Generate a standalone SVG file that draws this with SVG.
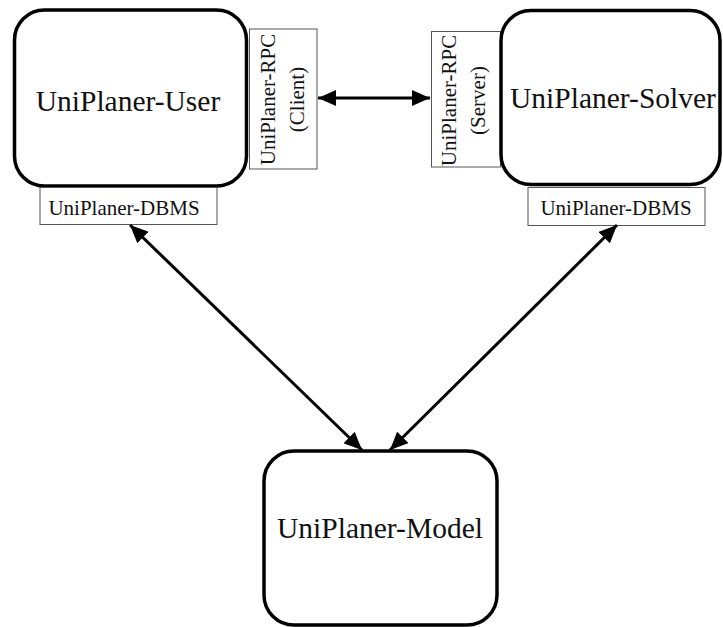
<svg xmlns="http://www.w3.org/2000/svg" width="723" height="627" viewBox="0 0 723 627">
<style>
.main{fill:#fff;stroke:#000;stroke-width:3.5}
.port{fill:#fff;stroke:#555;stroke-width:1}
.big{font-family:"Liberation Serif","Times New Roman",serif;font-size:29.5px;fill:#111;text-anchor:middle}
.small{font-family:"Liberation Serif","Times New Roman",serif;font-size:21px;fill:#111;text-anchor:middle}
.conn{stroke:#000;stroke-width:3;fill:none;marker-start:url(#ah);marker-end:url(#ah)}
</style>
<defs>
<marker id="ah" markerUnits="userSpaceOnUse" markerWidth="19" markerHeight="16" refX="18" refY="8" orient="auto-start-reverse">
<path d="M0,0 L18,8 L0,16 z" fill="#000"/>
</marker>
</defs>
<g id="user">
<rect class="main" x="14.5" y="10" width="232" height="176" rx="30" ry="30"/>
<text class="big" x="128" y="111">UniPlaner-User</text>
</g>
<g id="user-dbms">
<rect class="port" x="40" y="187.5" width="177" height="37"/>
<text class="small" x="124" y="215">UniPlaner-DBMS</text>
</g>
<g id="rpc-client">
<rect class="port" x="249.5" y="29" width="67.5" height="140"/>
<text class="small" transform="translate(274.5,99.5) rotate(-90)">UniPlaner-RPC</text>
<text class="small" transform="translate(304,99.5) rotate(-90)">(Client)</text>
</g>
<g id="rpc-server">
<rect class="port" x="431.5" y="31.5" width="69" height="135.5"/>
<text class="small" transform="translate(456,100.5) rotate(-90)">UniPlaner-RPC</text>
<text class="small" transform="translate(485,100.5) rotate(-90)">(Server)</text>
</g>
<g id="solver">
<rect class="main" x="501" y="10.5" width="219" height="174" rx="30" ry="30"/>
<text class="big" x="613" y="108">UniPlaner-Solver</text>
</g>
<g id="solver-dbms">
<rect class="port" x="528" y="187.5" width="177" height="38"/>
<text class="small" x="616" y="215">UniPlaner-DBMS</text>
</g>
<g id="model">
<rect class="main" x="264" y="451" width="233" height="174" rx="30" ry="30"/>
<text class="big" x="380" y="538">UniPlaner-Model</text>
</g>
<g id="connectors">
<line class="conn" x1="318" y1="98" x2="430" y2="98"/>
<line class="conn" x1="130" y1="225" x2="362" y2="450"/>
<line class="conn" x1="617" y1="225" x2="390" y2="450"/>
</g>
</svg>
